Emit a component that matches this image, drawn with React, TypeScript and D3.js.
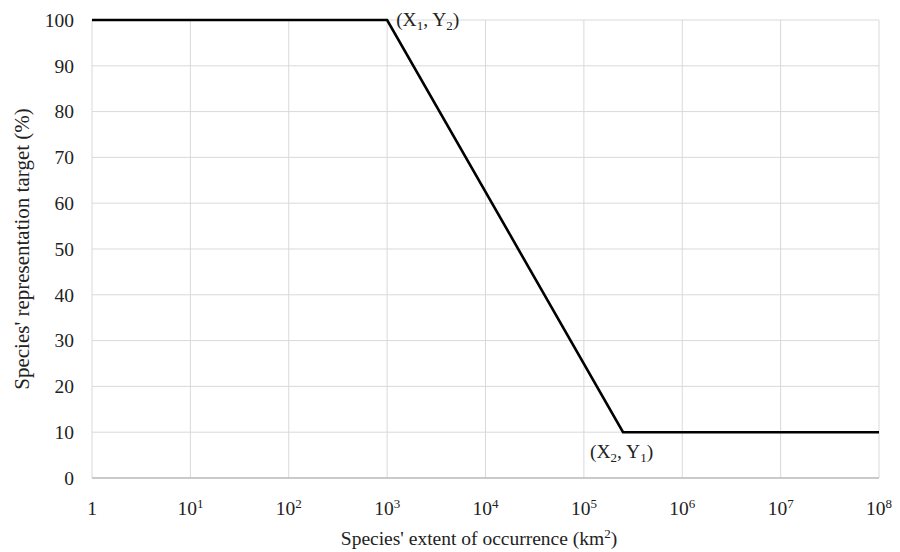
import React from 'react';
import * as d3 from 'd3';

// breakpoints of the target curve (extent km², target %)
const curveX = [1, 1000, 250000, 100000000];
const curveY = [100, 100, 10, 10];
const xTickExps = [0, 1, 2, 3, 4, 5, 6, 7, 8];
const yTicks = [0, 10, 20, 30, 40, 50, 60, 70, 80, 90, 100];

const W = 900;
const H = 552;
const margin = { top: 20, right: 20, bottom: 74, left: 92 };
const FONT = "'Liberation Serif', 'Times New Roman', serif";

const App = () => {
  const x = d3.scaleLog().domain([1, 1e8]).range([margin.left, 879]);
  const y = d3.scaleLinear().domain([0, 100]).range([H - margin.bottom, margin.top]);

  const pts = curveX.map((v, i) => [v, curveY[i]] as [number, number]);
  const line = d3.line<[number, number]>().x(d => x(d[0])).y(d => y(d[1]));

  const x0 = x(1), x1 = x(1e8), yb = y(0), yt = y(100);

  return (
    <svg width={W} height={H} style={{ position: 'absolute', left: 0, top: 0, background: '#fff' }} fontFamily={FONT}>
      {/* gridlines */}
      {xTickExps.map(e => (
        <line key={'gx' + e} x1={x(10 ** e)} x2={x(10 ** e)} y1={yt} y2={yb} stroke="#d9d9d9" strokeWidth={1} />
      ))}
      {yTicks.map(t => (
        <line key={'gy' + t} x1={x0} x2={x1} y1={y(t)} y2={y(t)} stroke="#d9d9d9" strokeWidth={1} />
      ))}
      <line x1={x0} x2={x1} y1={yb} y2={yb} stroke="#bfbfbf" strokeWidth={1.3} />

      {/* y tick labels */}
      {yTicks.map(t => (
        <text key={'ty' + t} x={74} y={y(t)} dy="0.35em" textAnchor="end" fontSize={19.5} fill="#222">{t}</text>
      ))}
      {/* x tick labels */}
      {xTickExps.map(e => (
        <text key={'tx' + e} x={x(10 ** e)} y={515} textAnchor="middle" fontSize={19.5} fill="#222">
          {e === 0 ? '1' : <>10<tspan dy="-7" fontSize={13}>{e}</tspan></>}
        </text>
      ))}

      {/* curve */}
      <path d={line(pts) || ''} fill="none" stroke="#000" strokeWidth={2.6} strokeLinejoin="miter" />

      {/* annotations */}
      <text x={x(1000) + 9} y={y(100) + 6} fontSize={19.5} fill="#222">
        (X<tspan dy="4" fontSize={13}>1</tspan><tspan dy="-4">, Y</tspan><tspan dy="4" fontSize={13}>2</tspan><tspan dy="-4">)</tspan>
      </text>
      <text x={x(250000) - 33} y={y(10) + 26} fontSize={19.5} fill="#222">
        (X<tspan dy="4" fontSize={13}>2</tspan><tspan dy="-4">, Y</tspan><tspan dy="4" fontSize={13}>1</tspan><tspan dy="-4">)</tspan>
      </text>

      {/* axis titles */}
      <text x={479} y={545} textAnchor="middle" fontSize={19.5} fill="#222">
        Species' extent of occurrence (km<tspan dy="-7" fontSize={13}>2</tspan><tspan dy="7">)</tspan>
      </text>
      <text transform={`translate(29,${(yt + yb) / 2}) rotate(-90)`} textAnchor="middle" fontSize={21} fill="#222">
        Species' representation target (%)
      </text>
    </svg>
  );
};

export default App;
